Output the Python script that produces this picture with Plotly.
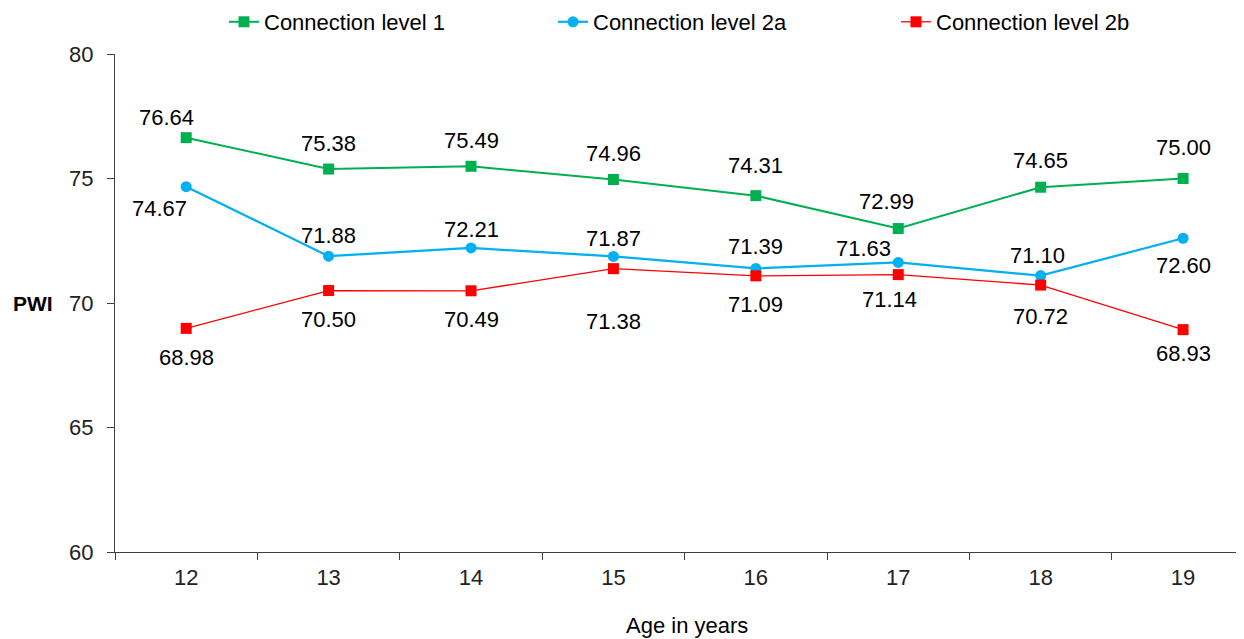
import plotly.graph_objects as go

ages = ["12", "13", "14", "15", "16", "17", "18", "19"]
level1 = [76.64, 75.38, 75.49, 74.96, 74.31, 72.99, 74.65, 75.00]
level2a = [74.67, 71.88, 72.21, 71.87, 71.39, 71.63, 71.10, 72.60]
level2b = [68.98, 70.50, 70.49, 71.38, 71.09, 71.14, 70.72, 68.93]
series_names = ["Connection level 1", "Connection level 2a", "Connection level 2b"]
y_ticks = [60, 65, 70, 75, 80]

# label offsets in screen px (dx right, dy down) -- styling only
off1 = [(-20, -20), (0, -26), (0, -26), (0, -26), (0, -30), (-12, -27), (0, -27), (0, -31)]
off2a = [(-27, 22), (0, -21), (0, -18), (0, -18), (0, -22), (-35, -14), (-3, -20), (0, 27)]
off2b = [(0, 29), (0, 29), (0, 29), (0, 53), (0, 29), (-9, 25), (0, 31), (0, 24)]

GREEN = "#00B050"
BLUE = "#00B0F0"
RED = "#FF0000"
FONT = "Liberation Sans, Arial, sans-serif"
FS = 22

fig = go.Figure()
fig.add_trace(go.Scatter(x=ages, y=level1, name=series_names[0], mode="lines+markers",
                         line=dict(color=GREEN, width=2),
                         marker=dict(symbol="square", size=11, color=GREEN),
                         legend="legend", showlegend=True))
fig.add_trace(go.Scatter(x=ages, y=level2a, name=series_names[1], mode="lines+markers",
                         line=dict(color=BLUE, width=2.25),
                         marker=dict(symbol="circle", size=11, color=BLUE),
                         legend="legend2", showlegend=True))
fig.add_trace(go.Scatter(x=ages, y=level2b, name=series_names[2], mode="lines+markers",
                         line=dict(color=RED, width=1.3),
                         marker=dict(symbol="square", size=11, color=RED),
                         legend="legend3", showlegend=True))

annotations = []
for vals, offs in ((level1, off1), (level2a, off2a), (level2b, off2b)):
    for i, (v, (dx, dy)) in enumerate(zip(vals, offs)):
        annotations.append(dict(x=i, y=v, xref="x", yref="y", text=f"{v:.2f}",
                                showarrow=False, xshift=dx, yshift=-dy,
                                font=dict(family=FONT, size=FS, color="#000000")))

annotations.append(dict(x=-0.0915, y=0.5, xref="paper", yref="paper", text="<b>PWI</b>",
                        showarrow=False, xanchor="left", yanchor="middle",
                        font=dict(family=FONT, size=21, color="#000000")))
annotations.append(dict(x=0.503, y=-0.1466, xref="paper", yref="paper", text="Age in years",
                        showarrow=False, xanchor="center", yanchor="middle",
                        font=dict(family=FONT, size=FS, color="#000000")))

leg_common = dict(orientation="h", yref="container", xref="container",
                  yanchor="middle", y=1 - 14 / 639, xanchor="left",
                  bgcolor="rgba(0,0,0,0)", borderwidth=0,
                  font=dict(family=FONT, size=FS, color="#000000"))

fig.update_layout(
    width=1244, height=639,
    margin=dict(l=107, r=0, t=46, b=95, autoexpand=False),
    paper_bgcolor="white", plot_bgcolor="white",
    showlegend=True,
    font=dict(family=FONT, size=FS, color="#000000"),
    annotations=annotations,
    legend=dict(x=216 / 1244, **leg_common),
    legend2=dict(x=545 / 1244, **leg_common),
    legend3=dict(x=888 / 1244, **leg_common),
    xaxis=dict(type="category", range=[-0.5, 7.484], tickson="boundaries",
               ticks="outside", ticklen=7, tickcolor="#404040", showline=True,
               linecolor="#404040", linewidth=1, showgrid=False, zeroline=False,
               automargin=False,
               ticklabelstandoff=6, tickfont=dict(family=FONT, size=FS, color="#222222")),
    yaxis=dict(range=[60, 80], tickvals=y_ticks, ticks="outside", ticklen=7,
               tickcolor="#404040", showline=True, linecolor="#404040", linewidth=1,
               showgrid=False, zeroline=False, ticklabelstandoff=9, automargin=False,
               tickfont=dict(family=FONT, size=FS, color="#222222")),
)

fig.write_html("out.html")
